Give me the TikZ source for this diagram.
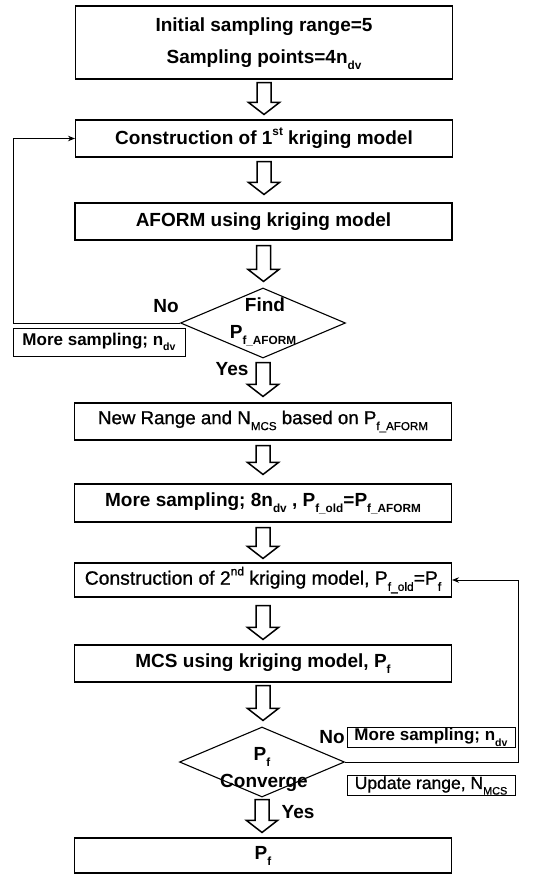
\documentclass[tikz,border=0pt]{standalone}
\usepackage{fontspec}
\setmainfont{Liberation Sans}
% a slightly heavier regular face for the lighter labels
\newfontfamily\medfont{Liberation Sans}[FakeBold=0.9]
\usetikzlibrary{shapes.geometric,arrows.meta,calc}

% small lowered / raised indices
\newcommand\lo[1]{\raisebox{-0.32em}{\scalebox{0.62}{#1}}}
\newcommand\hi[1]{\raisebox{0.48em}{\scalebox{0.62}{#1}}}

% hollow block arrow from the bottom of one node to the top of the next
% #1 from node, #2 to node, #3 gap below #1, #4 gap above #2 (pt)
\newcommand\blockarrow[4]{%
  \draw[blockarr] let \p1=(#1.south), \p2=(#2.north) in
    (\x1-7pt,\y1-#3pt) -- (\x1-7pt,\y2+#4pt+12pt) -- (\x1-15.5pt,\y2+#4pt+12pt)
    -- (\x1,\y2+#4pt) -- (\x1+15.5pt,\y2+#4pt+12pt) -- (\x1+7pt,\y2+#4pt+12pt)
    -- (\x1+7pt,\y1-#3pt) -- cycle;}

\tikzset{
  box/.style={draw, line width=1.1pt, minimum width=377pt, inner sep=0pt,
    font=\fontsize{19}{23}\selectfont\bfseries},
  plainbox/.style={box, font=\medfont\fontsize{18.7}{22}\selectfont},
  dec/.style={draw, diamond, line width=1.1pt, inner sep=0pt,
    minimum width=165pt, minimum height=70pt},
  lbl/.style={inner sep=0pt, font=\fontsize{19}{22}\selectfont\bfseries},
  tag/.style={draw, line width=0.9pt, inner sep=0pt,
    font=\fontsize{17}{20}\selectfont\bfseries},
  plaintag/.style={tag, font=\medfont\fontsize{17.5}{20}\selectfont},
  fb/.style={line width=0.9pt, -{Stealth[length=7pt,width=5.5pt]}},
  blockarr/.style={line width=1.5pt, line join=miter},
}

\begin{document}
\begin{tikzpicture}[x=1pt,y=-1pt]
\useasboundingbox (0,0) rectangle (534,875);
\fill[white] (0,0) rectangle (534,875);

% process boxes
\node[box, minimum height=73pt] (b1) at (264,42.5) {};
\node[lbl] (b1a) at (264,27) {Initial sampling range=5};
\node[lbl] (b1b) at (264,60) {Sampling points=4n\lo{dv}};
\node[box, minimum height=37pt] (b2) at (264,138.5)
  {Construction of 1\hi{st} kriging model};
\node[box, minimum height=37pt] (b3) at (263.5,221.5)
  {AFORM using kriging model};
\node[dec] (d1) at (263,323) {};
\node[plainbox, minimum height=37pt] (b4) at (263,421.5)
  {New Range and N\lo{MCS} based on P\lo{f\_AFORM}};
\node[box, minimum height=38pt] (b5) at (263,503)
  {More sampling; 8n\lo{dv} , P\lo{f\_old}=P\lo{f\_AFORM}};
\node[plainbox, minimum height=34pt, font=\medfont\fontsize{19.3}{22}\selectfont] (b6) at (263,580)
  {Construction of 2\hi{nd} kriging model, P\lo{f\_old}=P\lo{f}};
\node[box, minimum height=37pt] (b7) at (263,663.5)
  {MCS using kriging model, P\lo{f}};
\node[dec] (d2) at (262,762) {};
\node[box, minimum height=35pt] (b8) at (263,855.5) {P\lo{f}};

% texts of the decisions
\node[lbl] (d1a) at (265,305) {Find};
\node[lbl] (d1b) at (263,336) {P\lo{f\_AFORM}};
\node[lbl] (d2a) at (262,757) {P\lo{f}};
\node[lbl] (d2b) at (264,783) {Converge};

% branch labels
\node[lbl] (no1) at (166,306) {No};
\node[lbl] (yes1) at (232,369) {Yes};
\node[lbl] (no2) at (332,737) {No};
\node[lbl] (yes2) at (298,812) {Yes};

% side notes on the loops
\node[tag, minimum width=172pt, minimum height=28pt] (t1) at (99,342)
  {More sampling; n\lo{dv}};
\node[tag, minimum width=168pt, minimum height=20pt] (t2) at (431,737.5)
  {More sampling; n\lo{dv}};
\node[plaintag, minimum width=168pt, minimum height=20pt] (t3) at (431,785.5)
  {Update range, N\lo{MCS}};

% main flow
\blockarrow{b1}{b2}{3}{5}
\blockarrow{b2}{b3}{4}{8}
\blockarrow{b3}{d1}{5}{6}
\blockarrow{d1}{b4}{4}{6}
\blockarrow{b4}{b5}{5}{9}
\blockarrow{b5}{b6}{5}{4}
\blockarrow{b6}{b7}{8}{5}
\blockarrow{b7}{d2}{3}{6}
\blockarrow{d2}{b8}{2}{5}

% feedback loops
\coordinate (lc) at (13,323);
\coordinate (rc) at (518,762);
\draw[fb] (d1.west) -- (lc) |- (b2.west);
\draw[fb] (d2.east) -- (rc) |- (b6.east);
\end{tikzpicture}
\end{document}
